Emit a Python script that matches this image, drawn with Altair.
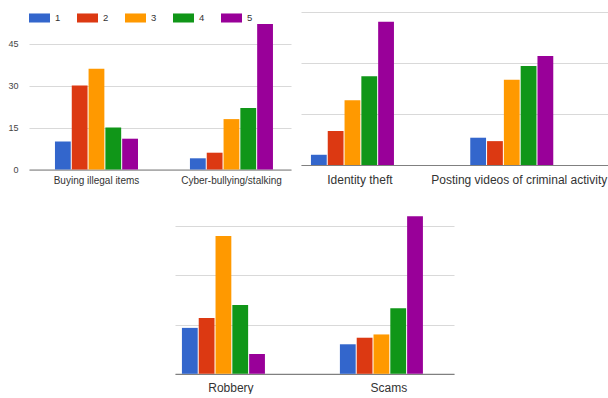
import altair as alt
import pandas as pd

ratings = ["1", "2", "3", "4", "5"]
colors = ["#3366CC", "#DC3912", "#FF9900", "#109618", "#990099"]

# panel 1
p1_cats = ["Buying illegal items", "Cyber-bullying/stalking"]
buying = [10, 30, 36, 15, 11]
cyber = [4, 6, 18, 22, 52]
# panel 2
p2_cats = ["Identity theft", "Posting videos of criminal activity"]
identity = [3, 10, 19, 26, 42]
posting = [8, 7, 25, 29, 32]
# panel 3
p3_cats = ["Robbery", "Scams"]
robbery = [14, 17, 42, 21, 6]
scams = [9, 11, 12, 20, 48]

y_ticks = [0, 15, 30, 45]
FONT = "Liberation Sans"


def frame(cats, series):
    rows = []
    for c, vals in zip(cats, series):
        for r, v in zip(ratings, vals):
            rows.append({"category": c, "rating": r, "count": v})
    return pd.DataFrame(rows)


def panel(df, cats, width, height, ymax, pi, po, align, label_size, label_pad,
          show_y=False, legend=None):
    color = alt.Color("rating:N", scale=alt.Scale(domain=ratings, range=colors),
                      legend=legend)
    if show_y:
        yaxis = alt.Axis(values=y_ticks, title=None, ticks=False, domain=False,
                         labelFontSize=9, labelColor="#444", labelPadding=11,
                         gridColor="#d9d9d9", labelFont=FONT)
    else:
        yaxis = alt.Axis(values=y_ticks, title=None, ticks=False, domain=False,
                         labels=False, gridColor="#d9d9d9")
    return alt.Chart(df).mark_bar().encode(
        x=alt.X("category:N", sort=cats, title=None,
                scale=alt.Scale(paddingInner=pi, paddingOuter=po, align=align),
                axis=alt.Axis(labelAngle=0, ticks=False, domainColor="#808080",
                              domainWidth=1.2, labelFontSize=label_size,
                              labelColor="#333", labelPadding=label_pad,
                              labelFont=FONT, grid=False)),
        xOffset=alt.XOffset("rating:N", sort=ratings,
                            scale=alt.Scale(paddingInner=0.06, paddingOuter=0)),
        y=alt.Y("count:Q", scale=alt.Scale(domain=[0, ymax], nice=False),
                axis=yaxis),
        color=color,
    ).properties(width=width, height=height)


legend1 = alt.Legend(
    title=None, orient="none", legendX=0, legendY=5, direction="horizontal",
    columns=5, columnPadding=16, labelOffset=5, padding=0,
    symbolType="M-1,-0.43L1,-0.43L1,0.43L-1,0.43Z", symbolSize=441,
    symbolStrokeWidth=0, symbolOpacity=1, labelFontSize=9.5, labelColor="#333",
    labelFont=FONT,
)

p1 = panel(frame(p1_cats, [buying, cyber]), p1_cats, 262, 167.5, 167.5 / 2.8,
           0.385, 0.163, 0.59, 10, 6, show_y=True, legend=legend1)
p2 = panel(frame(p2_cats, [identity, posting]), p2_cats, 307, 163, 163 / 3.41,
           0.385, 0.156, 0.2, 12, 9)
H3 = 173.8
p3 = panel(frame(p3_cats, [robbery, scams]), p3_cats, 279, H3, H3 / 3.28,
           0.38, 0.073, 0.30, 12, 9)

spacer = alt.Chart(pd.DataFrame({"v": [0]})).mark_point(opacity=0).encode(
    x=alt.X("v:Q", axis=None), y=alt.Y("v:Q", axis=None)
).properties(width=146, height=20)

row1 = alt.hconcat(p1, p2, spacing=10).resolve_scale(color="independent")
row2 = alt.hconcat(spacer, p3, spacing=0).resolve_scale(color="independent")
chart = alt.vconcat(row1, row2, spacing=14).resolve_scale(
    color="independent"
).properties(
    padding={"left": 7, "top": 2, "right": 0, "bottom": 0},
    background="white",
).configure_view(stroke=None)

chart.save("out.html", embed_options={"renderer": "svg", "actions": False})
